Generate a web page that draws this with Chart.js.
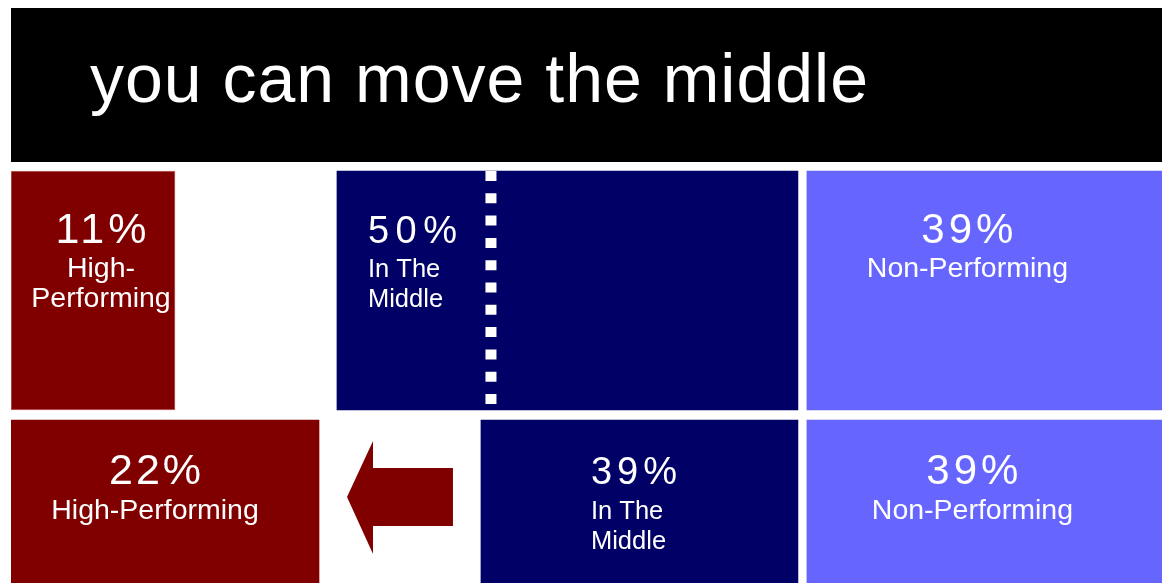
<!DOCTYPE html>
<html>
<head>
<meta charset="utf-8">
<script src="https://cdn.jsdelivr.net/npm/chart.js@4"></script>
<style>
  html, body { margin: 0; padding: 0; background: #fff; overflow: hidden; width: 1162px; height: 583px; }
  #title { position: absolute; left: 11px; top: 8px; width: 1151px; height: 154px; background: #000; }
  #title span { position: absolute; left: 79px; top: 36px; color: #fff; white-space: nowrap;
    font: 68px/68px "Liberation Sans", Arial, Helvetica, sans-serif; letter-spacing: 1px; }
  #chart { position: absolute; left: 11px; top: 166px; }
</style>
</head>
<body>
<div id="title"><span>you can move the middle</span></div>
<canvas id="chart" width="1151" height="498"></canvas>
<script>
// two rows: before and after the middle moves
const rows = ['Before', 'After'];

// shares printed on the slide
const highPct = [11, 22];
const middlePct = [50, 39];
const nonPct = [39, 39];

const highName = [['High-', 'Performing'], ['High-Performing']];
const middleName = [['In The', 'Middle'], ['In The', 'Middle']];
const nonName = [['Non-Performing'], ['Non-Performing']];

// drawn bar lengths (percent of slide width)
const highLen = [14.25, 26.76];
const shiftLen = [14.07, 14.07];
const middleLen = [40.05, 27.54];
const gapLen = [0.78, 0.78];
const nonLen = [30.84, 30.84];

const RED = '#800000';
const NAVY = '#000066';
const BLUE = '#6666ff';
const FONT = '"Liberation Sans", Arial, Helvetica, sans-serif';

function box(chart, dsIndex, i) {
    const el = chart.getDatasetMeta(dsIndex).data[i];
    const p = el.getProps(['x', 'base', 'y', 'height'], true);
    return {
        left: Math.min(p.x, p.base),
        right: Math.max(p.x, p.base),
        top: p.y - p.height / 2,
        bottom: p.y + p.height / 2
    };
}

const slideMarks = {
    id: 'slideMarks',
    afterDatasetsDraw(chart) {
        const ctx = chart.ctx;
        ctx.save();

        // dotted cut line through the first middle bar
        const m0 = box(chart, 2, 0);
        ctx.strokeStyle = '#fff';
        ctx.lineWidth = 11;
        ctx.setLineDash([10, 12.3]);
        ctx.beginPath();
        ctx.moveTo(m0.left + 154, m0.top);
        ctx.lineTo(m0.left + 154, m0.bottom - 5);
        ctx.stroke();
        ctx.setLineDash([]);

        // arrow between the second row's red and navy bars
        const h1 = box(chart, 0, 1);
        const m1 = box(chart, 2, 1);
        const tipX = h1.right + 28, headX = h1.right + 54, tailX = m1.left - 28;
        const t = m1.top;
        ctx.fillStyle = RED;
        ctx.beginPath();
        ctx.moveTo(tipX, t + 77);
        ctx.lineTo(headX, t + 21);
        ctx.lineTo(headX, t + 48);
        ctx.lineTo(tailX, t + 48);
        ctx.lineTo(tailX, t + 106);
        ctx.lineTo(headX, t + 106);
        ctx.lineTo(headX, t + 134);
        ctx.closePath();
        ctx.fill();

        // labels
        const series = [
            { ds: 0, pct: highPct, name: highName, align: 'center', dx: [8, -10], pctSize: 43, nameSize: 28.5, ls: [4, 3] },
            { ds: 2, pct: middlePct, name: middleName, align: 'left', dx: [31, 110], pctSize: 38, nameSize: 25.5, ls: [6.5, 5] },
            { ds: 4, pct: nonPct, name: nonName, align: 'center', dx: [-17, -12], pctSize: 42, nameSize: 28.5, ls: [4, 4] }
        ];
        const pctOffset = [72, 64];
        const nameOffset = [106, 99];
        ctx.fillStyle = '#fff';
        ctx.textBaseline = 'alphabetic';
        series.forEach(s => {
            rows.forEach((r, i) => {
                const b = box(chart, s.ds, i);
                const x = s.align === 'center' ? (b.left + b.right) / 2 + s.dx[i] : b.left + s.dx[i];
                ctx.textAlign = s.align;
                ctx.font = s.pctSize + 'px ' + FONT;
                ctx.letterSpacing = s.ls[i] + 'px';
                ctx.fillText(s.pct[i] + '%', x + (s.align === 'center' ? s.ls[i] / 2 : 0), b.top + pctOffset[i]);
                ctx.font = s.nameSize + 'px ' + FONT;
                ctx.letterSpacing = '0px';
                s.name[i].forEach((line, k) => {
                    ctx.fillText(line, x, b.top + nameOffset[i] + k * 29.5);
                });
            });
        });
        ctx.restore();
    }
};

const ctx = document.getElementById('chart').getContext('2d');
new Chart(ctx, {
    type: 'bar',
    data: {
        labels: rows,
        datasets: [
            { label: 'High-Performing', data: highLen, backgroundColor: RED,
              borderColor: ['#c26a6a', RED], borderWidth: [1, 0], borderSkipped: false },
            { label: 'shift', data: shiftLen, backgroundColor: 'rgba(0,0,0,0)' },
            { label: 'In The Middle', data: middleLen, backgroundColor: NAVY },
            { label: 'gap', data: gapLen, backgroundColor: 'rgba(0,0,0,0)' },
            { label: 'Non-Performing', data: nonLen, backgroundColor: BLUE }
        ]
    },
    options: {
        indexAxis: 'y',
        responsive: false,
        animation: false,
        barThickness: 239,
        layout: { padding: 0 },
        plugins: { legend: { display: false }, tooltip: { enabled: false } },
        scales: {
            x: { stacked: true, min: 0, max: 100, display: false },
            y: { stacked: true, display: false }
        }
    },
    plugins: [slideMarks]
});
</script>
</body>
</html>
